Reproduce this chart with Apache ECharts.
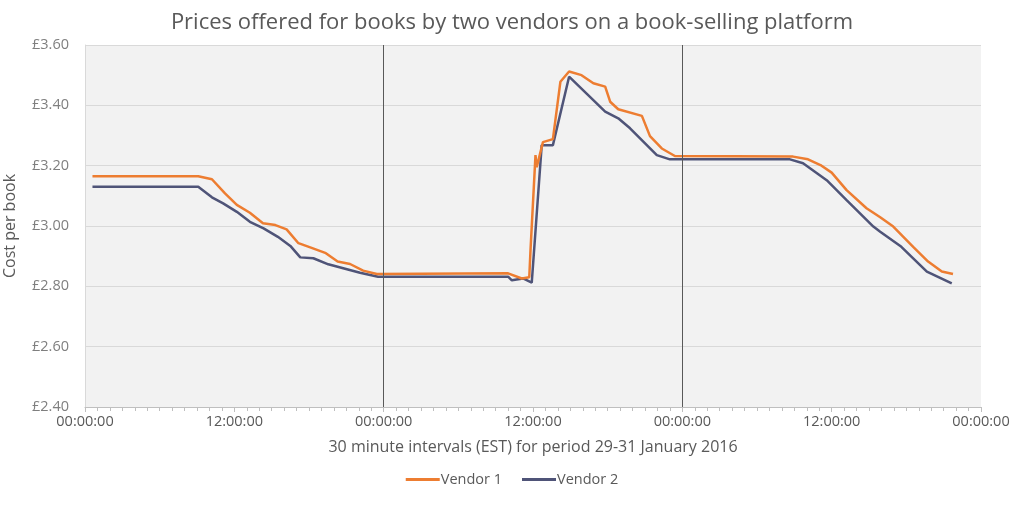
<!DOCTYPE html>
<html>
<head>
<meta charset="utf-8">
<script src="https://cdn.jsdelivr.net/npm/echarts@6/dist/echarts.min.js"></script>
<style>
  html, body { margin: 0; padding: 0; background: #fff; }
  #chart { width: 1024px; height: 505px; }
</style>
</head>
<body>
<div id="chart"></div>
<script>
// hours since 00:00 on 29 Jan
var vendor1Hours = [0.6, 9.1, 10.2, 11.25, 12.2, 13.25, 14.3, 15.3, 16.2, 17.15, 18.1, 19.3, 20.3, 21.3, 22.35, 23.45,
  34.0, 35.1, 35.7, 35.8, 36.2, 36.3, 36.8, 37.6, 38.2, 38.9, 39.9, 40.85, 41.8, 42.2, 42.85, 44.75, 45.4, 46.35, 47.4,
  56.9, 58.1, 59.1, 60.0, 61.2, 62.8, 63.9, 64.95, 66.55, 67.75, 68.85, 69.75];
var vendor1Prices = [3.165, 3.165, 3.155, 3.108, 3.07, 3.044, 3.009, 3.003, 2.989, 2.943, 2.929, 2.911, 2.882, 2.874, 2.852, 2.841,
  2.843, 2.826, 2.83, 2.92, 3.235, 3.195, 3.278, 3.288, 3.478, 3.512, 3.50, 3.473, 3.462, 3.412, 3.387, 3.365, 3.298, 3.257, 3.232,
  3.23, 3.221, 3.202, 3.177, 3.119, 3.059, 3.029, 2.998, 2.931, 2.882, 2.849, 2.841];

var vendor2Hours = [0.6, 9.1, 10.2, 11.1, 12.2, 13.25, 14.35, 15.5, 16.5, 17.3, 18.35, 19.55, 20.75, 22.1, 23.55,
  34.0, 34.3, 35.2, 35.9, 36.7, 37.6, 38.9, 41.8, 42.85, 43.8, 45.95, 47.0,
  56.65, 57.7, 59.6, 61.2, 63.35, 63.9, 65.6, 66.55, 67.65, 69.65];
var vendor2Prices = [3.13, 3.13, 3.095, 3.075, 3.047, 3.014, 2.992, 2.964, 2.934, 2.896, 2.893, 2.873, 2.86, 2.845, 2.832,
  2.832, 2.82, 2.826, 2.812, 3.268, 3.268, 3.495, 3.379, 3.357, 3.324, 3.235, 3.221,
  3.221, 3.208, 3.152, 3.086, 2.998, 2.981, 2.931, 2.893, 2.849, 2.81];

var midnightHours = [24, 48];

function pairs(xs, ys) {
  return xs.map(function (x, i) { return [x, ys[i]]; });
}

var font = "'Open Sans', sans-serif";
var chart = echarts.init(document.getElementById("chart"));
chart.setOption({
  animation: false,
  textStyle: { fontFamily: font },
  title: {
    text: "Prices offered for books by two vendors on a book-selling platform",
    left: "center",
    top: 7,
    textStyle: { fontSize: 22, fontWeight: "normal", color: "#595959", fontFamily: font }
  },
  legend: {
    bottom: 13,
    left: "center",
    icon: "rect",
    itemWidth: 34,
    itemHeight: 3,
    itemGap: 20,
    textStyle: { fontSize: 14.5, color: "#595959", padding: [0, 0, 0, -4] },
    data: ["Vendor 1", "Vendor 2"]
  },
  grid: {
    left: 85,
    right: 43,
    top: 45,
    bottom: 98,
    outerBoundsMode: "none",
    containLabel: false,
    show: true,
    backgroundColor: "#f2f2f2",
    borderWidth: 0
  },
  xAxis: {
    type: "value",
    min: 0,
    max: 72,
    interval: 12,
    name: "30 minute intervals (EST) for period 29-31 January 2016",
    nameLocation: "middle",
    nameGap: 32,
    nameTextStyle: { fontSize: 16, color: "#595959" },
    axisLine: { show: true, lineStyle: { color: "#bfbfbf" } },
    axisTick: { show: true, length: 5, lineStyle: { color: "#bfbfbf" } },
    minorTick: { show: true, splitNumber: 12, length: 4, lineStyle: { color: "#bfbfbf" } },
    splitLine: { show: false },
    axisLabel: {
      fontSize: 14.5,
      color: "#595959",
      margin: 7,
      formatter: function (v) {
        var h = v % 24;
        return (h < 10 ? "0" : "") + h + ":00:00";
      }
    }
  },
  yAxis: {
    type: "value",
    min: 2.4,
    max: 3.6,
    interval: 0.2,
    name: "Cost per book",
    nameLocation: "middle",
    nameGap: 67,
    nameTextStyle: { fontSize: 16, color: "#595959" },
    axisLine: { show: true, lineStyle: { color: "#d9d9d9" } },
    axisTick: { show: false },
    splitLine: { show: true, lineStyle: { color: "#d9d9d9" } },
    axisLabel: {
      fontSize: 14.5,
      color: "#7f7f7f",
      margin: 16,
      formatter: function (v) { return "£" + v.toFixed(2); }
    }
  },
  series: [
    {
      name: "Vendor 1",
      type: "line",
      symbol: "none",
      color: "#ed7d31",
      lineStyle: { width: 2.5, color: "#ed7d31" },
      data: pairs(vendor1Hours, vendor1Prices),
      z: 3,
      markLine: {
        silent: true,
        symbol: "none",
        label: { show: false },
        lineStyle: { color: "#595959", width: 1, type: "solid" },
        data: midnightHours.map(function (h) { return { xAxis: h }; })
      }
    },
    {
      name: "Vendor 2",
      type: "line",
      symbol: "none",
      color: "#4f5478",
      lineStyle: { width: 2.5, color: "#4f5478" },
      data: pairs(vendor2Hours, vendor2Prices),
      z: 2
    }
  ]
});
</script>
</body>
</html>
